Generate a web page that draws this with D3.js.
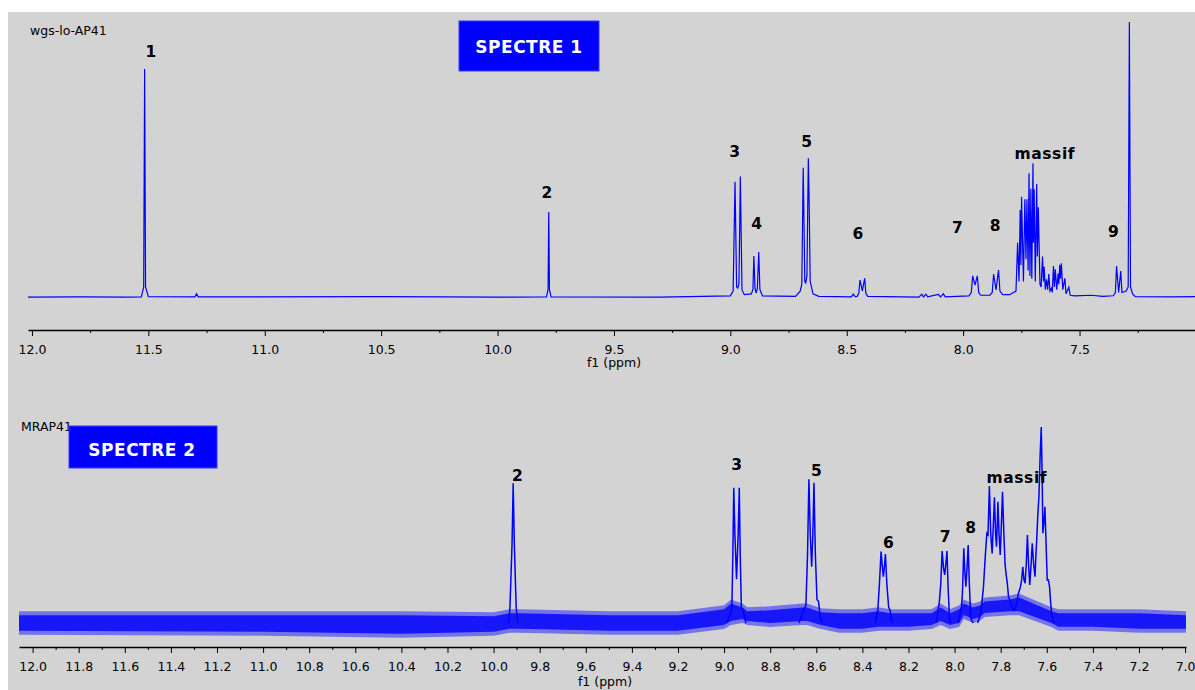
<!DOCTYPE html>
<meta charset="utf-8">
<style>
body { margin: 0; background: #fff; }
.axis text { font-family: "DejaVu Sans", Verdana, sans-serif; font-size: 12.5px; fill: #000; }
.axis path, .axis line { stroke: #000; }
.num { font-family: "DejaVu Sans", Verdana, sans-serif; font-weight: bold; font-size: 15.5px; fill: #000; text-anchor: middle; }
.title { font-family: "DejaVu Sans", Verdana, sans-serif; font-size: 12.5px; fill: #000; }
.box text { font-family: "DejaVu Sans", Verdana, sans-serif; font-weight: bold; font-size: 17px; fill: #fff; text-anchor: middle; letter-spacing: 0.5px; }
</style>
<body>
<script src="https://d3js.org/d3.v7.min.js"></script>
<script>

var w = 1195;
var h = 690;

// spectre 1 : ppm / intensite relative (%)
var ppm1 = [
  12.017, 11.800, 11.600,
  11.530, 11.520, 11.516, 11.512, 11.500,
  11.300, 11.293, 11.286, 10.500, 10.000,
  9.790, 9.783, 9.780, 9.777, 9.770, 9.300,
  9.000, 8.988, 8.980, 8.973, 8.968, 8.963, 8.957, 8.950, 8.940,
  8.910, 8.903, 8.899, 8.894, 8.889, 8.884, 8.878, 8.873, 8.862,
  8.720, 8.700, 8.693, 8.687, 8.680, 8.676, 8.671, 8.665, 8.662, 8.657, 8.645, 8.620,
  8.480, 8.472, 8.464, 8.455, 8.448, 8.443, 8.433, 8.423, 8.418, 8.410,
  8.190, 8.178, 8.170, 8.160, 8.152, 8.107, 8.097, 8.085, 8.077,
  7.975, 7.965, 7.959, 7.949, 7.939, 7.933, 7.925,
  7.885, 7.875, 7.869, 7.859, 7.848, 7.842, 7.830,
  7.800, 7.773, 7.766, 7.760, 7.755, 7.752, 7.749, 7.741, 7.735, 7.730, 7.726, 7.721,
  7.717, 7.713, 7.709, 7.705, 7.700, 7.698, 7.695, 7.690, 7.684, 7.681, 7.677, 7.670,
  7.665, 7.659, 7.655, 7.652, 7.647, 7.642, 7.637, 7.632, 7.627, 7.621, 7.617, 7.612,
  7.608, 7.604, 7.598, 7.592, 7.589, 7.585, 7.582, 7.578, 7.572, 7.563, 7.558, 7.546, 7.540, 7.520,
  7.450, 7.400, 7.355, 7.346, 7.341, 7.332, 7.323, 7.318,
  7.300, 7.291, 7.286, 7.281, 7.272, 7.260, 7.100, 7.004
];
var int1 = [
  0.3, 0.4, 0.3,
  0.4, 4, 83, 4, 0.5,
  0.4, 1.5, 0.4, 0.5, 0.3,
  0.4, 3, 31.2, 3, 0.4, 0.3,
  0.8, 2.5, 42.1, 4, 3.6, 5, 44, 3, 1.2,
  1.5, 3, 15.2, 3.5, 1.8, 3.5, 16.7, 3, 0.8,
  0.6, 2.5, 5, 47.2, 6, 5.5, 8, 50.6, 38, 6, 1.5, 0.6,
  0.4, 1.4, 0.5, 0.6, 1.8, 6.5, 2.6, 7.1, 1.8, 0.6,
  0.3, 1.4, 0.4, 1.4, 0.4, 1.3, 0.4, 1.5, 0.4,
  0.8, 2, 8, 4.7, 8, 2, 1,
  1, 2, 8.7, 2.9, 10.1, 2.5, 1.2,
  1.2, 2.5, 20, 6, 31.9, 12, 36.7, 6, 35.8, 14, 35.8, 10,
  45.2, 8, 39.6, 7, 48.8, 20, 39.4, 6, 41.3, 15, 32.9, 5,
  4, 15, 6, 11.3, 3, 6.8, 3, 8.7, 2.5, 3.5, 2, 11.6,
  4, 10.4, 3, 8.9, 5, 12, 7, 12.6, 3, 7.1, 1.5, 3.9, 1, 0.8,
  1, 0.6, 0.8, 2, 11.6, 2, 9.8, 2,
  2.5, 4, 100, 4, 1.5, 0.5, 0.4, 0.5
];

// spectre 2 : massifs de pics (null = coupure)
var ppm2 = [
  9.935, 9.929, 9.920, 9.915, 9.910, 9.902, 9.895, null,
  8.990, 8.972, 8.966, 8.962, 8.958, 8.953, 8.946, 8.939, 8.934, 8.930, 8.925, 8.916, 8.905, null,
  8.675, 8.655, 8.645, 8.638, 8.632, 8.626, 8.620, 8.615, 8.610, 8.604, 8.597, 8.590, 8.583, 8.575, null,
  8.345, 8.333, 8.326, 8.319, 8.313, 8.309, 8.305, 8.300, 8.294, 8.286, 8.280, 8.272, null,
  8.080, 8.066, 8.060, 8.054, 8.048, 8.043, 8.038, 8.033, 8.028, 8.022, 8.015, null,
  7.985, 7.970, 7.966, 7.960, 7.955, 7.951, 7.946, 7.941, 7.936, 7.930, 7.920, null,
  7.900, 7.886, 7.875, 7.866, 7.860, 7.855, 7.849, 7.843, 7.837, 7.832, 7.827, 7.822,
  7.818, 7.815, 7.812, 7.807, 7.802, 7.797, 7.792, 7.786, 7.781, 7.777, 7.771, 7.766,
  7.755, 7.744, 7.735, 7.728, 7.723, 7.715, 7.709, 7.704, 7.699, 7.694, 7.689, 7.684,
  7.679, 7.674, 7.669, 7.663, 7.657, 7.651, 7.647, 7.644, 7.639, 7.634, 7.629, 7.624,
  7.620, 7.617, 7.612, 7.608, 7.603, 7.598, 7.593, 7.588, 7.583, 7.579, 7.570
];
var int2 = [
  0, 8, 40, 71.3, 40, 8, 0, null,
  0, 5, 8.3, 35, 69, 45, 22.3, 45, 69, 35, 8, 5.6, 0, null,
  0, 6.6, 9, 35, 73.3, 45, 28.7, 45, 71.6, 35, 12, 10.9, 3, 0, null,
  0, 6.6, 20, 36.4, 28, 23.6, 28, 35.2, 20, 8, 6.6, 0, null,
  0, 10.9, 20, 36.7, 28, 24.5, 30, 36.7, 18, 2, 0, null,
  0, 8, 15, 38.1, 25, 18.5, 28, 39.8, 20, 2.6, 0, null,
  0, 5, 18, 35.5, 45.8, 45, 69.9, 45, 35.5, 50, 64.1, 45,
  38.9, 50, 61.9, 45, 34.7, 50, 67, 45, 30, 25.4, 20, 13.4,
  10, 6.6, 8, 12, 15.2, 18, 22, 28.7, 22, 20.3, 30, 44.9,
  30, 19.4, 28, 40.7, 30, 23.6, 35, 41.5, 55, 64.4, 85, 100,
  75, 45.8, 52, 59.3, 40, 21.9, 22, 18.5, 10, 4.9, 0
];

// spectre 2 : enveloppe du bruit de fond
var noisePpm = [12.059, 11.0, 10.4, 10.0, 9.93, 9.89, 9.5, 9.2, 9.0, 8.97, 8.92, 8.90, 8.8, 8.66, 8.64, 8.58, 8.5, 8.4,
  8.33, 8.28, 8.2, 8.1, 8.06, 8.02, 7.98, 7.96, 7.92, 7.89, 7.87, 7.76, 7.72, 7.58, 7.55, 7.4, 7.2, 6.996];
var noiseHi = [6, 6, 6, 5.5, 7, 7, 6, 6, 9, 12, 10, 8, 8.5, 10, 10, 7.5, 7, 7,
  8, 7, 7, 7, 10, 7, 9, 12, 10, 11, 13, 14, 15, 8, 7, 7, 7, 6];
var noiseLo = [-6, -6.5, -7.5, -6.5, -5, -5, -6, -6, -3, -1, 0, -1, -2, -1, -1, -3, -5, -5,
  -4, -4, -4, -3, -1, -3, -2, 2, 0, 1, 3, 4, 4, -2, -4, -4, -5, -5];

var labels1 = ["1", "2", "3", "4", "5", "6", "7", "8", "massif", "9"];
var labels1Ppm = [11.489, 9.788, 8.982, 8.887, 8.672, 8.452, 8.025, 7.863, 7.649, 7.355];
var labels1Int = [87.3, 36.2, 51.1, 25, 54.8, 21.3, 23.4, 24.2, 50.4, 22];

var labels2 = ["2", "3", "5", "6", "7", "8", "massif"];
var labels2Ppm = [9.897, 8.945, 8.600, 8.287, 8.041, 7.930, 7.730];
var labels2Int = [72.4, 78.1, 75.2, 38.4, 41.2, 46.1, 71.3];

var ticks1 = [12.0, 11.5, 11.0, 10.5, 10.0, 9.5, 9.0, 8.5, 8.0, 7.5];
var minor1 = [11.75, 11.25, 10.75, 10.25, 9.75, 9.25, 8.75, 8.25, 7.75, 7.25];
var ticks2 = d3.range(26).map(function(i) { return +(12 - i * 0.2).toFixed(1); });
var minor2 = d3.range(25).map(function(i) { return +(11.9 - i * 0.2).toFixed(1); });

if (ppm1.length !== int1.length || ppm2.length !== int2.length || noisePpm.length !== noiseHi.length || noisePpm.length !== noiseLo.length) {
  throw new Error("data length mismatch");
}

var svg = d3.select("body")
    .append("svg")
    .attr("width", w)
    .attr("height", h);

svg.append("rect")
    .attr("x", 8).attr("y", 12)
    .attr("width", w - 8).attr("height", h - 12)
    .attr("fill", "#d3d3d3");

// ---- spectre 1
var x1 = d3.scaleLinear().domain([12.017, 7.004]).range([28, 1195]);
var y1 = d3.scaleLinear().domain([0, 100]).range([298, 22]);

var data1 = ppm1.map(function(p, i) { return {p: p, v: int1[i]}; });

svg.append("path")
    .datum(data1)
    .attr("fill", "none")
    .attr("stroke", "#0000ff")
    .attr("stroke-width", 1.2)
    .attr("d", d3.line()
        .x(function(d) { return x1(d.p); })
        .y(function(d) { return y1(d.v); }));

svg.append("g")
    .attr("class", "axis")
    .attr("transform", "translate(0,330)")
    .call(d3.axisBottom(x1).tickValues(ticks1).tickFormat(d3.format(".1f"))
        .tickSize(6).tickSizeOuter(0).tickPadding(9))
    .select(".domain").attr("stroke-width", 1.3);

svg.append("g")
    .attr("class", "axis")
    .attr("transform", "translate(0,330)")
    .call(d3.axisBottom(x1).tickValues(minor1).tickFormat("").tickSize(3))
    .select(".domain").remove();

svg.append("text")
    .attr("class", "title")
    .attr("x", 614).attr("y", 367)
    .attr("text-anchor", "middle")
    .attr("font-size", "13px")
    .text("f1 (ppm)");

svg.append("text")
    .attr("class", "title")
    .attr("x", 30).attr("y", 35)
    .text("wgs-lo-AP41");

svg.selectAll(".lab1")
    .data(labels1)
    .enter()
    .append("text")
    .attr("class", "num")
    .attr("x", function(d, i) { return x1(labels1Ppm[i]); })
    .attr("y", function(d, i) { return y1(labels1Int[i]); })
    .attr("letter-spacing", function(d) { return d.length > 1 ? "0.6px" : null; })
    .text(function(d) { return d; });

var box1 = svg.append("g").attr("class", "box");
box1.append("rect")
    .attr("x", 459).attr("y", 21).attr("width", 140).attr("height", 50)
    .attr("fill", "#0000ff").attr("stroke", "#3b3bff");
box1.append("text").attr("x", 529).attr("y", 52.5).text("SPECTRE 1");

// ---- spectre 2
var x2 = d3.scaleLinear().domain([12.059, 6.996]).range([19, 1186]);
var y2 = d3.scaleLinear().domain([0, 100]).range([623, 427]);

var noise = noisePpm.map(function(p, i) { return {p: p, hi: noiseHi[i], lo: noiseLo[i]}; });

svg.append("path")
    .datum(noise)
    .attr("fill", "#0000ff")
    .attr("fill-opacity", 0.45)
    .attr("d", d3.area()
        .x(function(d) { return x2(d.p); })
        .y0(function(d) { return y2(d.lo); })
        .y1(function(d) { return y2(d.hi); }));

svg.append("path")
    .datum(noise)
    .attr("fill", "#0000ff")
    .attr("fill-opacity", 0.8)
    .attr("d", d3.area()
        .x(function(d) { return x2(d.p); })
        .y0(function(d) { return y2(d.lo) - 4; })
        .y1(function(d) { return y2(d.hi) + 4; }));

var data2 = ppm2.map(function(p, i) { return {p: p, v: int2[i]}; });

svg.append("path")
    .datum(data2)
    .attr("fill", "none")
    .attr("stroke", "#0000ff")
    .attr("stroke-width", 1.5)
    .attr("d", d3.line()
        .defined(function(d) { return d.p != null; })
        .x(function(d) { return x2(d.p); })
        .y(function(d) { return y2(d.v); }));

svg.append("g")
    .attr("class", "axis")
    .attr("transform", "translate(0,647)")
    .call(d3.axisBottom(x2).tickValues(ticks2).tickFormat(d3.format(".1f"))
        .tickSize(6).tickSizeOuter(0).tickPadding(9))
    .select(".domain").attr("stroke-width", 1.3);

svg.append("g")
    .attr("class", "axis")
    .attr("transform", "translate(0,647)")
    .call(d3.axisBottom(x2).tickValues(minor2).tickFormat("").tickSize(3))
    .select(".domain").remove();

svg.append("text")
    .attr("class", "title")
    .attr("x", 605).attr("y", 686)
    .attr("text-anchor", "middle")
    .attr("font-size", "12px")
    .text("f1 (ppm)");

svg.append("text")
    .attr("class", "title")
    .attr("x", 21).attr("y", 431)
    .text("MRAP41");

svg.selectAll(".lab2")
    .data(labels2)
    .enter()
    .append("text")
    .attr("class", "num")
    .attr("x", function(d, i) { return x2(labels2Ppm[i]); })
    .attr("y", function(d, i) { return y2(labels2Int[i]); })
    .attr("letter-spacing", function(d) { return d.length > 1 ? "0.6px" : null; })
    .text(function(d) { return d; });

var box2 = svg.append("g").attr("class", "box");
box2.append("rect")
    .attr("x", 69).attr("y", 426).attr("width", 148).attr("height", 42)
    .attr("fill", "#0000ff").attr("stroke", "#3b3bff");
box2.append("text").attr("x", 142).attr("y", 456).text("SPECTRE 2");

</script>
</body>
